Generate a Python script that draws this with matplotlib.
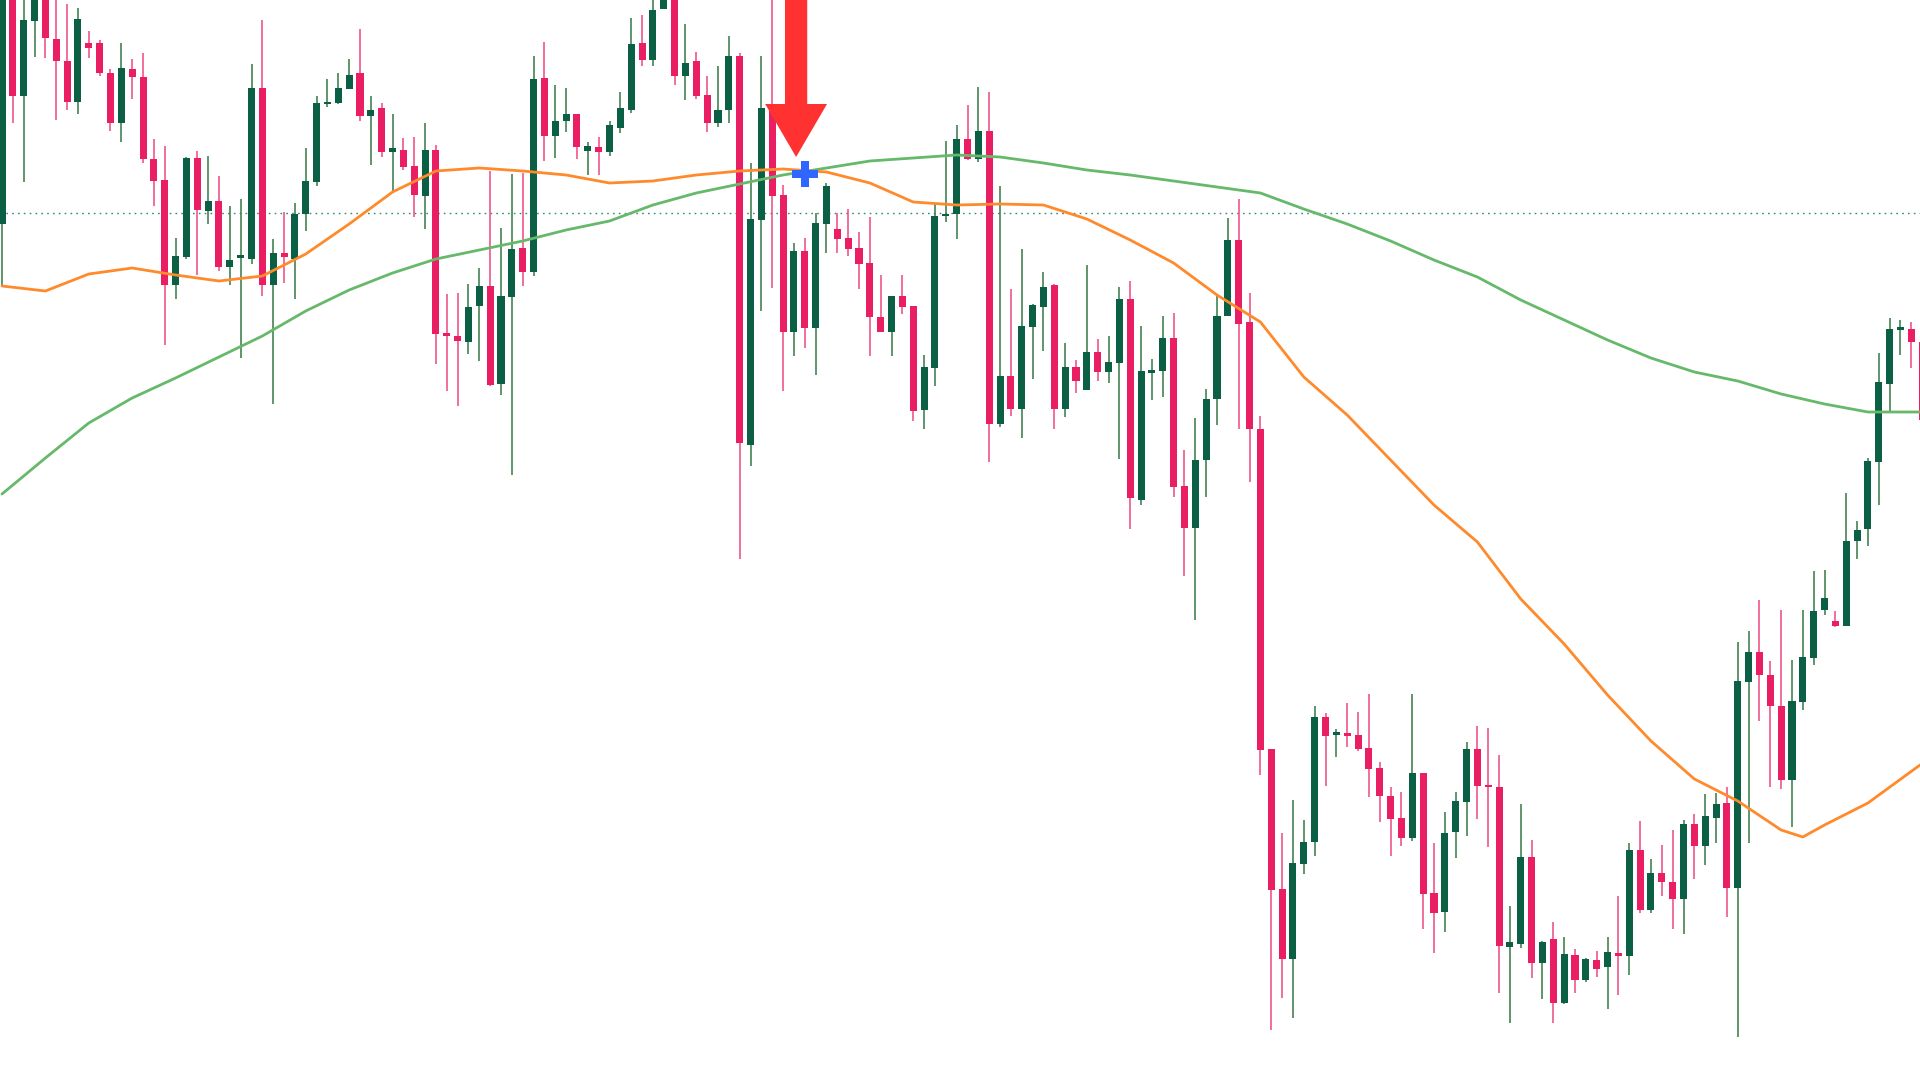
import matplotlib
matplotlib.use("Agg")
import matplotlib.pyplot as plt
from matplotlib.patches import FancyArrow
import numpy as np

# ---------------- data (price units) ----------------
opens = [856, 1100, 984, 1059, 1095, 1041, 1019, 978, 1037, 1037,
         1007, 957, 1011, 1003, 921, 900, 795, 823, 922, 869,
         879, 813, 822, 821, 992, 795, 827, 821, 866, 898,
         976, 977, 991, 1007, 964, 972, 928, 930, 914, 884,
         930, 747, 744, 738, 774, 794, 696, 783, 832, 808,
         1002, 944, 959, 966, 929, 933, 928, 952, 970, 1037,
         1020, 1071, 1090, 1004, 1019, 985, 957, 970, 1024, 635,
         860, 970, 885, 748, 829, 752, 856, 851, 842, 832,
         817, 763, 748, 784, 774, 670, 712, 864, 866, 941,
         921, 949, 656, 704, 671, 753, 773, 795, 671, 713,
         690, 728, 708, 717, 781, 580, 708, 709, 742, 594,
         552, 620, 681, 764, 840, 758, 651, 331, 191, 121,
         216, 238, 363, 346, 347, 345, 332, 312, 284, 262,
         242, 307, 187, 168, 248, 278, 331, 295, 293, 133,
         136, 223, 117, 141, 77, 125, 100, 120, 113, 127,
         124, 230, 170, 207, 198, 181, 256, 234, 262, 277,
         192, 398, 428, 405, 374, 300, 378, 422, 470, 459,
         454, 539, 551, 618, 696, 751, 751, 738]
highs = [1140, 1110, 1090, 1110, 1105, 1085, 1076, 1072, 1049, 1040,
         1011, 1037, 1021, 1027, 941, 934, 842, 923, 929, 924,
         904, 874, 881, 1016, 1060, 841, 868, 877, 932, 984,
         1001, 1007, 1021, 1051, 984, 977, 966, 942, 943, 957,
         935, 786, 787, 796, 812, 909, 852, 906, 907, 1024,
         1038, 995, 992, 966, 938, 943, 959, 988, 1062, 1065,
         1085, 1105, 1100, 1056, 1028, 1004, 1014, 1044, 1027, 917,
         1024, 1090, 895, 837, 842, 867, 897, 867, 871, 848,
         863, 805, 784, 805, 774, 725, 876, 939, 955, 975,
         993, 988, 894, 791, 831, 776, 808, 796, 737, 720,
         815, 741, 744, 793, 799, 754, 721, 764, 767, 630,
         662, 691, 785, 862, 881, 787, 664, 331, 247, 280,
         260, 374, 367, 351, 377, 368, 386, 318, 293, 288,
         386, 307, 237, 268, 288, 338, 354, 352, 325, 174,
         276, 240, 139, 158, 143, 131, 122, 129, 143, 184,
         237, 259, 221, 235, 250, 260, 266, 286, 287, 293,
         438, 449, 480, 419, 470, 420, 470, 509, 510, 469,
         587, 559, 622, 727, 762, 760, 758, 756]
lows = [794, 957, 898, 1023, 1022, 960, 970, 966, 1022, 1004,
        949, 938, 981, 917, 874, 735, 781, 821, 805, 856,
        809, 795, 722, 816, 784, 676, 797, 781, 849, 894,
        973, 976, 991, 959, 915, 923, 887, 910, 863, 851,
        716, 689, 674, 726, 719, 694, 685, 605, 794, 804,
        919, 922, 948, 921, 905, 905, 924, 947, 967, 1014,
        1014, 1071, 995, 980, 981, 948, 953, 957, 521, 614,
        769, 792, 689, 724, 732, 705, 827, 827, 824, 791,
        724, 748, 724, 766, 659, 651, 694, 858, 841, 920,
        918, 618, 653, 664, 642, 701, 729, 651, 663, 687,
        690, 699, 697, 621, 551, 575, 680, 683, 583, 504,
        460, 583, 655, 764, 651, 598, 305, 50, 82, 62,
        206, 224, 294, 323, 333, 329, 283, 258, 224, 234,
        239, 151, 127, 148, 222, 244, 261, 233, 87, 57,
        132, 102, 81, 57, 76, 87, 98, 103, 71, 85,
        105, 167, 167, 184, 151, 146, 201, 215, 237, 163,
        43, 237, 359, 293, 291, 253, 370, 415, 465, 453,
        454, 521, 534, 575, 668, 725, 712, 647]
closes = [1120, 984, 1060, 1100, 1042, 1019, 978, 1061, 1032, 1007,
          957, 1012, 1003, 921, 899, 795, 824, 922, 870, 879,
          813, 820, 825, 992, 795, 827, 823, 866, 899, 977,
          978, 992, 1005, 964, 970, 928, 932, 913, 885, 930,
          746, 744, 739, 773, 794, 695, 784, 831, 808, 1001,
          944, 959, 966, 933, 934, 928, 955, 972, 1036, 1020,
          1070, 1095, 1004, 1017, 984, 957, 970, 1024, 637, 861,
          972, 884, 748, 829, 752, 857, 894, 841, 831, 816,
          763, 748, 784, 773, 669, 713, 864, 866, 941, 921,
          949, 656, 704, 671, 754, 775, 793, 671, 713, 699,
          728, 708, 718, 781, 582, 709, 709, 742, 593, 552,
          620, 681, 764, 840, 756, 651, 330, 190, 121, 217,
          238, 363, 344, 347, 344, 331, 311, 284, 261, 242,
          307, 186, 167, 247, 279, 331, 294, 293, 134, 138,
          223, 117, 138, 77, 126, 100, 121, 111, 128, 124,
          230, 170, 207, 198, 181, 256, 234, 264, 276, 192,
          399, 428, 405, 374, 300, 379, 423, 469, 482, 454,
          539, 550, 619, 698, 751, 752, 738, 660]

# moving averages, read at candle indices
ma_fast_index = [0, 4, 8, 12, 16, 20, 24, 28, 32, 36, 40, 44, 48, 52, 56, 60,
                 64, 68, 72, 76, 80, 84, 88, 92, 96, 100, 104, 108, 112, 116,
                 120, 124, 128, 132, 136, 140, 144, 148, 152, 156, 160, 164,
                 166, 168, 172, 176.8]
ma_fast = [794, 789, 806, 812, 805, 799, 804, 826, 856, 888, 909, 912, 909,
           905, 897, 899, 905, 909, 911, 908, 897, 878, 875, 876, 875, 861,
           840, 817, 785, 758, 703, 665, 620, 575, 538, 481, 436, 385, 339,
           301, 279, 250, 243, 255, 277, 315]
ma_slow_index = [0, 4, 8, 12, 16, 20, 24, 28, 32, 36, 40, 44, 48, 52, 56, 60,
                 64, 68, 72, 76, 80, 84, 88, 92, 96, 100, 104, 108, 112, 116,
                 120, 124, 128, 132, 136, 140, 144, 148, 152, 156, 160, 164,
                 168, 172, 176.8]
ma_slow = [586, 622, 657, 682, 702, 723, 744, 769, 790, 807, 821, 830, 839,
           850, 859, 875, 887, 896, 905, 912, 919, 922, 925, 923, 917, 910,
           905, 899, 893, 887, 871, 856, 839, 820, 803, 780, 760, 740, 722,
           708, 699, 686, 676, 668, 668]

ref_level = 867          # dotted horizontal level
signal_index = 73.2      # red arrow
signal_tip = 923
marker_index = 74.0      # blue cross
marker_price = 906

# ---------------- drawing ----------------
UP_BODY, DOWN_BODY = "#0a5f45", "#e91e63"
UP_WICK, DOWN_WICK = "#3c7d4c", "#ee4f84"

fig = plt.figure(figsize=(19.2, 10.8), dpi=100)
ax = fig.add_axes([0, 0, 1, 1])
ax.axis("off")
fig.patch.set_facecolor("white")

o = np.array(opens, float)
h = np.array(highs, float)
l = np.array(lows, float)
c = np.array(closes, float)
x = np.arange(len(o))
up = c >= o

body_lo = np.minimum(o, c)
body_hi = np.maximum(o, c)
span = body_hi - body_lo
mid = (body_lo + body_hi) / 2
min_h = 2.5
body_bottom = np.where(span < min_h, mid - min_h / 2, body_lo)
body_height = np.maximum(span, min_h)

ax.vlines(x, l, h, colors=np.where(up, UP_WICK, DOWN_WICK), linewidth=1.15, zorder=2)
ax.bar(x, body_height, bottom=body_bottom, width=0.65,
       color=np.where(up, UP_BODY, DOWN_BODY), linewidth=0, zorder=3)

ax.axhline(ref_level, color="#2f8a78", linewidth=1.0, linestyle=(0, (1.2, 3.0)), zorder=1)

ax.plot(ma_slow_index, ma_slow, color="#66b96a", linewidth=2.0, zorder=4,
        solid_joinstyle="round", solid_capstyle="round")
ax.plot(ma_fast_index, ma_fast, color="#ff8a2c", linewidth=2.0, zorder=4,
        solid_joinstyle="round", solid_capstyle="round")

arrow_start = 1200
ax.add_patch(FancyArrow(signal_index, arrow_start, 0, signal_tip - arrow_start,
                        width=2.05, head_width=5.7, head_length=53,
                        length_includes_head=True, color="#ff3131",
                        linewidth=0, zorder=6))
ax.plot([marker_index], [marker_price], marker="P", markersize=19,
        color="#2f66ff", markeredgewidth=0, zorder=7)

ax.set_xlim(-0.184, 176.8)
ax.set_ylim(0, 1080)

fig.savefig("out.png", dpi=100, facecolor="white")
